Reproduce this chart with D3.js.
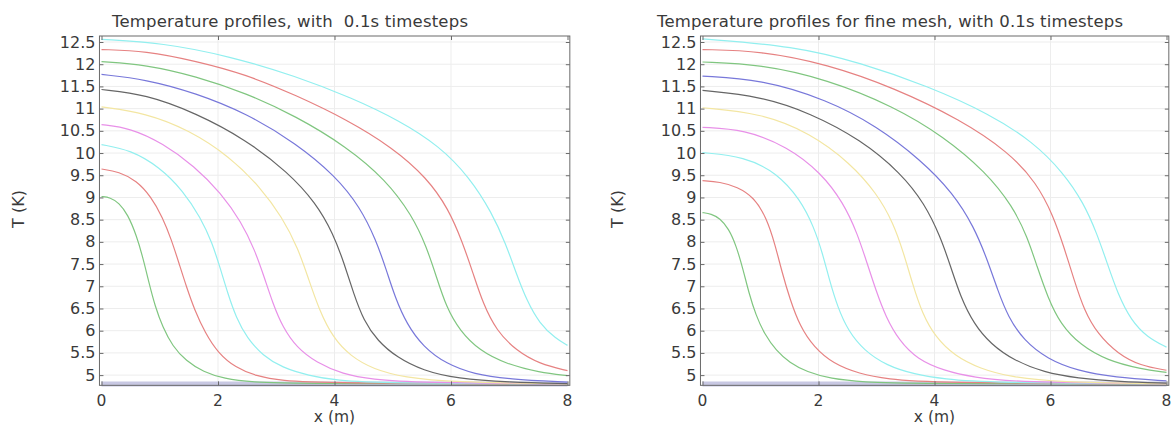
<!DOCTYPE html>
<html>
<head>
<meta charset="utf-8">
<script src="https://cdn.jsdelivr.net/npm/d3@7"></script>
<style>
  html, body { margin: 0; padding: 0; background: #fff; }
  svg { display: block; }
  text { font-family: "DejaVu Sans", sans-serif; fill: #3a3a3a; white-space: pre; }
</style>
</head>
<body>
<svg id="chart" width="1171" height="426"></svg>
<script>
// Temperature profiles T(x) at t = 0 ... 1.0 s (0.1 s steps), two meshes.

const timeSteps = ["0", "0.1", "0.2", "0.3", "0.4", "0.5", "0.6", "0.7", "0.8", "0.9", "1.0"];
const seriesColors = ["#7878da", "#80c680", "#e68282", "#92efef", "#e890e8", "#f3e6a2",
                      "#666666", "#7878da", "#80c680", "#e68282", "#92efef"];

const xTicks = [0, 2, 4, 6, 8];
const yTicks = [5, 5.5, 6, 6.5, 7, 7.5, 8, 8.5, 9, 9.5, 10, 10.5, 11, 11.5, 12, 12.5];
const yTickLabels = ["5", "5.5", "6", "6.5", "7", "7.5", "8", "8.5", "9", "9.5", "10",
                     "10.5", "11", "11.5", "12", "12.5"];

// Default mesh, [x (m), T (K)]
const coarse_t00 = [[0, 4.8], [8, 4.8]];
const coarse_t01 = [[0, 9.02], [0.15, 9.0], [0.3, 8.88], [0.45, 8.62], [0.6, 8.15], [0.72, 7.6],
  [0.82, 7.05], [0.92, 6.55], [1.05, 6.08], [1.22, 5.65], [1.45, 5.32], [1.75, 5.07], [2.1, 4.92],
  [2.6, 4.84], [3.3, 4.81], [8, 4.8]];
const coarse_t02 = [[0, 9.64], [0.3, 9.58], [0.6, 9.38], [0.85, 9.02], [1.05, 8.55], [1.2, 8.05],
  [1.33, 7.52], [1.46, 6.98], [1.6, 6.46], [1.78, 5.95], [2.0, 5.5], [2.3, 5.17], [2.65, 4.98],
  [3.1, 4.87], [3.8, 4.82], [8, 4.8]];
const coarse_t03 = [[0, 10.19], [0.5, 10.07], [1.0, 9.68], [1.4, 9.15], [1.7, 8.55], [1.9, 7.98],
  [2.04, 7.4], [2.17, 6.83], [2.31, 6.3], [2.5, 5.83], [2.77, 5.44], [3.1, 5.17], [3.55, 4.99],
  [4.05, 4.88], [4.8, 4.82], [8, 4.8]];
const coarse_t04 = [[0, 10.64], [0.5, 10.56], [1.05, 10.22], [1.6, 9.7], [2.05, 9.1], [2.4, 8.45],
  [2.63, 7.82], [2.79, 7.22], [2.94, 6.62], [3.11, 6.08], [3.35, 5.62], [3.69, 5.28], [4.14, 5.02],
  [4.65, 4.9], [5.4, 4.83], [8, 4.8]];
const coarse_t05 = [[0, 11.04], [0.76, 10.9], [1.5, 10.52], [2.2, 9.92], [2.72, 9.24], [3.1, 8.56],
  [3.38, 7.84], [3.56, 7.14], [3.74, 6.46], [3.97, 5.85], [4.27, 5.43], [4.67, 5.13], [5.2, 4.95],
  [6.0, 4.84], [8, 4.8]];
const coarse_t06 = [[0, 11.43], [0.76, 11.32], [1.62, 10.9], [2.48, 10.3], [3.2, 9.57], [3.68, 8.88],
  [3.98, 8.18], [4.17, 7.5], [4.33, 6.83], [4.5, 6.23], [4.74, 5.77], [5.07, 5.4], [5.52, 5.1],
  [6.1, 4.92], [7.0, 4.84], [8, 4.81]];
const coarse_t07 = [[0, 11.77], [0.76, 11.66], [1.62, 11.35], [2.48, 10.9], [3.34, 10.22], [4.02, 9.48],
  [4.44, 8.78], [4.71, 8.05], [4.89, 7.37], [5.04, 6.75], [5.24, 6.15], [5.52, 5.64], [5.92, 5.25],
  [6.4, 5.02], [6.98, 4.91], [8, 4.84]];
const coarse_t08 = [[0, 12.06], [0.76, 11.99], [1.62, 11.73], [2.48, 11.35], [3.34, 10.83], [4.2, 10.15],
  [4.88, 9.4], [5.33, 8.6], [5.58, 7.89], [5.75, 7.21], [5.92, 6.53], [6.15, 6.0], [6.49, 5.55],
  [6.95, 5.25], [7.52, 5.06], [8, 4.99]];
const coarse_t09 = [[0, 12.33], [0.76, 12.3], [1.62, 12.07], [2.48, 11.77], [3.34, 11.3], [4.2, 10.76],
  [5.0, 10.12], [5.58, 9.45], [5.96, 8.74], [6.2, 7.98], [6.38, 7.29], [6.55, 6.61], [6.78, 6.0],
  [7.12, 5.55], [7.52, 5.25], [8, 5.1]];
const coarse_t10 = [[0, 12.56], [1.05, 12.48], [2.2, 12.18], [3.34, 11.73], [4.3, 11.24], [5.1, 10.74],
  [5.8, 10.16], [6.32, 9.45], [6.7, 8.66], [6.94, 7.96], [7.12, 7.29], [7.3, 6.68], [7.52, 6.16],
  [7.8, 5.82], [8, 5.67]];

// Fine mesh, [x (m), T (K)]
const fine_t00 = [[0, 4.8], [8, 4.8]];
const fine_t01 = [[0, 8.66], [0.15, 8.63], [0.3, 8.53], [0.45, 8.3], [0.58, 7.92], [0.7, 7.38],
  [0.8, 6.85], [0.92, 6.35], [1.07, 5.92], [1.27, 5.55], [1.5, 5.28], [1.8, 5.07], [2.2, 4.92],
  [2.8, 4.84], [3.5, 4.81], [8, 4.8]];
const fine_t02 = [[0, 9.38], [0.3, 9.35], [0.6, 9.24], [0.89, 9.0], [1.1, 8.55], [1.25, 7.95],
  [1.37, 7.32], [1.51, 6.7], [1.68, 6.1], [1.92, 5.63], [2.25, 5.26], [2.7, 5.03], [3.2, 4.91],
  [3.9, 4.83], [8, 4.8]];
const fine_t03 = [[0, 10.01], [0.72, 9.92], [1.29, 9.55], [1.68, 8.96], [1.92, 8.34], [2.07, 7.74],
  [2.19, 7.13], [2.33, 6.53], [2.51, 6.0], [2.78, 5.56], [3.18, 5.21], [3.65, 5.02], [4.17, 4.91],
  [4.9, 4.83], [8, 4.8]];
const fine_t04 = [[0, 10.58], [0.72, 10.53], [1.46, 10.15], [2.04, 9.56], [2.43, 8.88], [2.67, 8.19],
  [2.84, 7.51], [2.99, 6.91], [3.16, 6.31], [3.39, 5.78], [3.7, 5.36], [4.16, 5.1], [4.68, 4.95],
  [5.4, 4.84], [8, 4.8]];
const fine_t05 = [[0, 11.02], [1.0, 10.9], [1.86, 10.45], [2.55, 9.77], [3.0, 9.1], [3.29, 8.43],
  [3.47, 7.74], [3.62, 7.06], [3.79, 6.38], [4.02, 5.85], [4.34, 5.44], [4.79, 5.14], [5.31, 4.96],
  [6.1, 4.84], [8, 4.8]];
const fine_t06 = [[0, 11.41], [1.0, 11.28], [1.86, 10.9], [2.73, 10.3], [3.42, 9.55], [3.83, 8.86],
  [4.1, 8.12], [4.28, 7.44], [4.45, 6.76], [4.68, 6.15], [4.97, 5.7], [5.37, 5.33], [5.89, 5.06],
  [6.46, 4.93], [7.2, 4.85], [8, 4.82]];
const fine_t07 = [[0, 11.73], [1.0, 11.66], [2.15, 11.2], [3.01, 10.6], [3.76, 9.85], [4.32, 9.1],
  [4.68, 8.34], [4.91, 7.6], [5.09, 6.91], [5.27, 6.31], [5.54, 5.78], [5.95, 5.36], [6.46, 5.1],
  [7.1, 4.95], [8, 4.87]];
const fine_t08 = [[0, 12.05], [1.0, 12.0], [2.15, 11.66], [3.3, 11.05], [4.16, 10.37], [4.88, 9.58],
  [5.35, 8.8], [5.6, 8.11], [5.77, 7.44], [5.95, 6.76], [6.17, 6.15], [6.52, 5.67], [6.98, 5.33],
  [7.55, 5.14], [8, 5.06]];
const fine_t09 = [[0, 12.33], [1.0, 12.3], [2.15, 12.0], [3.3, 11.47], [4.45, 10.75], [5.28, 10.02],
  [5.76, 9.33], [6.05, 8.58], [6.23, 7.89], [6.41, 7.13], [6.58, 6.46], [6.81, 5.93], [7.16, 5.48],
  [7.55, 5.21], [8, 5.11]];
const fine_t10 = [[0, 12.57], [1.58, 12.41], [2.73, 12.03], [3.88, 11.51], [4.95, 10.88], [5.7, 10.25],
  [6.22, 9.56], [6.57, 8.88], [6.8, 8.19], [6.98, 7.51], [7.16, 6.83], [7.39, 6.23], [7.67, 5.85],
  [8, 5.63]];

const coarseSeries = [coarse_t00, coarse_t01, coarse_t02, coarse_t03, coarse_t04, coarse_t05,
                      coarse_t06, coarse_t07, coarse_t08, coarse_t09, coarse_t10];
const fineSeries = [fine_t00, fine_t01, fine_t02, fine_t03, fine_t04, fine_t05,
                    fine_t06, fine_t07, fine_t08, fine_t09, fine_t10];

const panels = [
  { title: "Temperature profiles, with  0.1s timesteps", series: coarseSeries,
    x0: 101.5, x1: 567.5, titleX: 290, titleLen: 356, yLabelX: 18 },
  { title: "Temperature profiles for fine mesh, with 0.1s timesteps", series: fineSeries,
    x0: 702.5, x1: 1166.5, titleX: 890, titleLen: 466, yLabelX: 617 }
];

const svg = d3.select("#chart");
const y = d3.scaleLinear().domain([4.8, 12.5]).range([384, 42]);
const frameTop = y(12.635), frameBottom = y(4.77);

panels.forEach((p, pi) => {
  const x = d3.scaleLinear().domain([0, 8]).range([p.x0, p.x1]);
  const left = x(-0.035), right = x(8.04);
  const g = svg.append("g");

  // grid
  g.append("g").selectAll("line").data(yTicks).join("line")
    .attr("x1", left).attr("x2", right)
    .attr("y1", d => y(d)).attr("y2", d => y(d))
    .attr("stroke", "#ededed").attr("stroke-width", 1);
  g.append("g").selectAll("line").data(xTicks.slice(1, -1)).join("line")
    .attr("x1", d => x(d)).attr("x2", d => x(d))
    .attr("y1", frameTop).attr("y2", frameBottom)
    .attr("stroke", "#ededed").attr("stroke-width", 1);

  // curves
  const clipId = "clip" + pi;
  svg.append("clipPath").attr("id", clipId).append("rect")
    .attr("x", left).attr("y", frameTop).attr("width", right - left).attr("height", 360);
  const line = d3.line().x(d => x(d[0])).y(d => y(d[1])).curve(d3.curveBasis);
  g.append("g").attr("clip-path", `url(#${clipId})`)
    .selectAll("path").data(p.series).join("path")
    .attr("d", line)
    .attr("fill", "none")
    .attr("stroke", (d, i) => i === 0 ? "#c8c8e3" : seriesColors[i])
    .attr("stroke-width", (d, i) => i === 0 ? 5 : 1.2)
    .attr("data-time", (d, i) => timeSteps[i]);

  // frame
  g.append("rect")
    .attr("x", left).attr("y", frameTop)
    .attr("width", right - left).attr("height", frameBottom - frameTop)
    .attr("fill", "none").attr("stroke", "#6a6a6a").attr("stroke-width", 1);

  // inward ticks on all four sides
  const yAxisL = d3.axisRight(y).tickValues(yTicks).tickSize(4).tickFormat("");
  const yAxisR = d3.axisLeft(y).tickValues(yTicks).tickSize(4).tickFormat("");
  const xAxisB = d3.axisTop(x).tickValues(xTicks).tickSize(4).tickFormat("");
  const xAxisT = d3.axisBottom(x).tickValues(xTicks).tickSize(4).tickFormat("");
  [[yAxisL, `translate(${left},0)`], [yAxisR, `translate(${right},0)`],
   [xAxisB, `translate(0,${frameBottom})`], [xAxisT, `translate(0,${frameTop})`]]
    .forEach(([ax, tr]) => {
      const a = g.append("g").attr("transform", tr).call(ax);
      a.select(".domain").remove();
      a.selectAll("line").attr("stroke", "#6a6a6a");
    });

  // tick labels
  g.append("g").selectAll("text").data(yTicks).join("text")
    .attr("x", left - 4).attr("y", d => y(d))
    .attr("text-anchor", "end").attr("dominant-baseline", "central")
    .attr("font-size", 16)
    .text((d, i) => yTickLabels[i]);
  g.append("g").selectAll("text").data(xTicks).join("text")
    .attr("x", d => x(d)).attr("y", 405.5)
    .attr("text-anchor", "middle").attr("font-size", 15.5)
    .text(d => d);

  // titles and axis labels
  g.append("text").attr("x", p.titleX).attr("y", 27)
    .attr("text-anchor", "middle").attr("font-size", 16.5)
    .attr("textLength", p.titleLen).attr("lengthAdjust", "spacing")
    .text(p.title);
  g.append("text").attr("x", (p.x0 + p.x1) / 2).attr("y", 422)
    .attr("text-anchor", "middle").attr("font-size", 15.5).text("x (m)");
  g.append("text")
    .attr("transform", `translate(${p.yLabelX},209) rotate(-90)`)
    .attr("text-anchor", "middle").attr("dominant-baseline", "central")
    .attr("font-size", 16).text("T (K)");
});
</script>
</body>
</html>
